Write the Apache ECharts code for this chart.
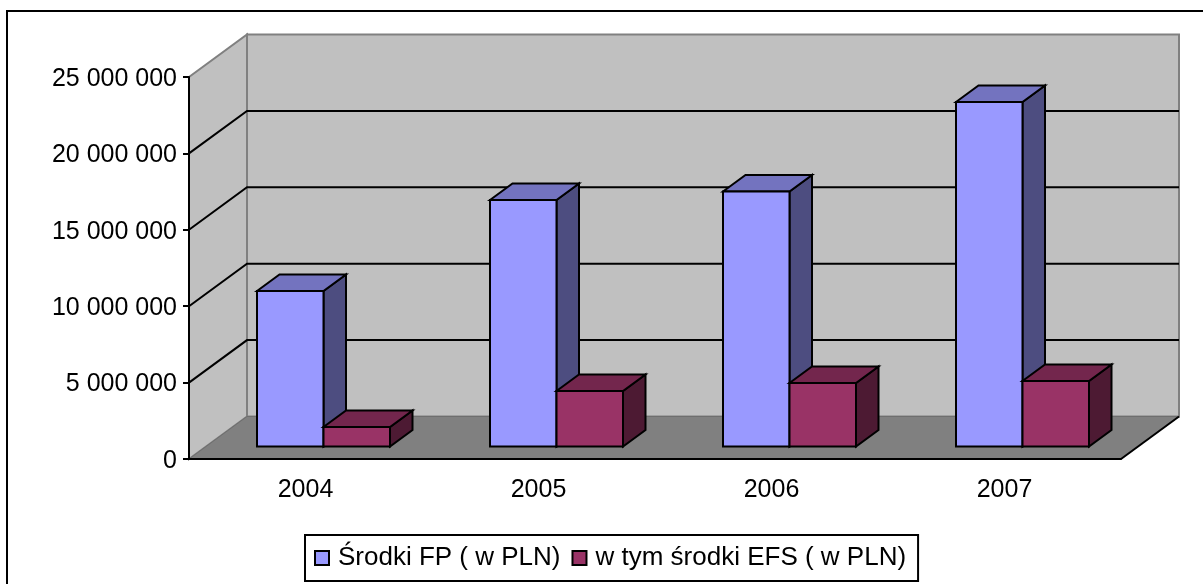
<!DOCTYPE html>
<html>
<head>
<meta charset="utf-8">
<style>
html, body { margin: 0; padding: 0; background: #fff; }
#main { width: 1203px; height: 584px; }
</style>
<script src="https://cdn.jsdelivr.net/npm/echarts@6/dist/echarts.min.js"></script>
</head>
<body>
<div id="main"></div>
<script>
var categories = ['2004', '2005', '2006', '2007'];
var fpValues = [10180000, 16130000, 16690000, 22550000];
var efsValues = [1280000, 3630000, 4160000, 4290000];
var yTicks = [0, 5000000, 10000000, 15000000, 20000000, 25000000];
var fpName = 'Środki FP ( w PLN)';
var efsName = 'w tym środki EFS ( w PLN)';

var FONT = '"Liberation Sans", Arial, sans-serif';
// przesuniecie glebi wykresu 3D
var wallDx = 58, wallDy = -42.5;
var barGapDx = 18, barGapDy = -12.5;
var barDx = 22.5, barDy = -16.5;
var barWidth = 66.5;

var myChart = echarts.init(document.getElementById('main'));

function poly(points, fill, stroke, width) {
    return {
        type: 'polygon',
        shape: { points: points },
        style: { fill: fill, stroke: stroke, lineWidth: width, lineJoin: 'miter' }
    };
}

function line(points, stroke, width) {
    return {
        type: 'polyline',
        shape: { points: points },
        style: { fill: null, stroke: stroke, lineWidth: width }
    };
}

// sciany, podloga i linie siatki
function renderWalls(params, api) {
    var value = api.value(1);
    var sys = params.coordSys;
    var x0 = sys.x, x1 = sys.x + sys.width;
    var y = api.coord([0, value])[1];
    var children = [];
    if (params.dataIndex === 0) {
        var yTop = sys.y, yBottom = sys.y + sys.height;
        children.push(poly([[x0 + wallDx, yTop + wallDy], [x1 + wallDx, yTop + wallDy], [x1 + wallDx, yBottom + wallDy], [x0 + wallDx, yBottom + wallDy]], '#c0c0c0', '#808080', 2));
        children.push(poly([[x0, yTop], [x0 + wallDx, yTop + wallDy], [x0 + wallDx, yBottom + wallDy], [x0, yBottom]], '#c0c0c0', '#808080', 2));
        children.push(poly([[x0, yBottom], [x0 + wallDx, yBottom + wallDy], [x1 + wallDx, yBottom + wallDy], [x1, yBottom]], '#808080', '#6e6e6e', 1));
        children.push(line([[x1, yBottom], [x1 + wallDx, yBottom + wallDy]], '#000', 2));
    } else if (params.dataIndex < yTicks.length - 1) {
        children.push(line([[x0, y], [x0 + wallDx, y + wallDy], [x1 + wallDx, y + wallDy]], '#000', 2));
    }
    return { type: 'group', children: children };
}

function makeBarRenderer(side, front, sideFace, top) {
    return function (params, api) {
        var idx = api.value(0);
        var c = api.coord([idx, api.value(1)]);
        var base = api.coord([idx, 0]);
        var xMid = c[0] + barGapDx;
        var x0 = side < 0 ? xMid - barWidth : xMid;
        var x1 = x0 + barWidth;
        var yT = c[1] + barGapDy;
        var yB = base[1] + barGapDy;
        return {
            type: 'group',
            children: [
                poly([[x1, yT], [x1 + barDx, yT + barDy], [x1 + barDx, yB + barDy], [x1, yB]], sideFace, '#000', 2),
                poly([[x0, yT], [x0 + barDx, yT + barDy], [x1 + barDx, yT + barDy], [x1, yT]], top, '#000', 2),
                poly([[x0, yT], [x1, yT], [x1, yB], [x0, yB]], front, '#000', 2)
            ]
        };
    };
}

var option = {
    backgroundColor: '#fff',
    animation: false,
    textStyle: { fontFamily: FONT },
    graphic: [{
        type: 'polyline',
        shape: { points: [[7, 584], [7, 11], [1203, 11]] },
        style: { fill: null, stroke: '#000', lineWidth: 2 },
        z: 10
    }],
    grid: { left: 189, top: 77, width: 932, height: 382 },
    legend: {
        left: 305,
        top: 535,
        orient: 'horizontal',
        padding: [10, 12, 10, 9],
        backgroundColor: '#fff',
        borderColor: '#000',
        borderWidth: 2,
        borderRadius: 0,
        itemWidth: 14,
        itemHeight: 14,
        itemGap: 11,
        textStyle: { fontFamily: FONT, fontSize: 26, color: '#000', padding: [0, 0, 0, 4] },
        data: [
            { name: fpName, icon: 'rect', itemStyle: { color: '#9999ff', borderColor: '#000', borderWidth: 2 } },
            { name: efsName, icon: 'rect', itemStyle: { color: '#993366', borderColor: '#000', borderWidth: 2 } }
        ]
    },
    xAxis: {
        type: 'category',
        data: categories,
        z: 3,
        axisLine: { lineStyle: { color: '#000', width: 2 } },
        axisTick: { length: 6, lineStyle: { color: '#000', width: 2 } },
        axisLabel: { color: '#000', fontFamily: FONT, fontSize: 25, margin: 19, interval: 0 }
    },
    yAxis: {
        type: 'value',
        min: 0,
        max: 25000000,
        interval: 5000000,
        z: 3,
        splitLine: { show: false },
        axisLine: { show: true, lineStyle: { color: '#000', width: 2 } },
        axisTick: { show: true, length: 6, lineStyle: { color: '#000', width: 2 } },
        axisLabel: {
            margin: 12,
            formatter: function (v) {
                return '{a|' + String(v).replace(/\B(?=(\d{3})+(?!\d))/g, ' ') + '}';
            },
            rich: {
                a: { color: '#000', fontFamily: FONT, fontSize: 25, padding: [4, 0, 0, 0] }
            }
        }
    },
    series: [
        {
            type: 'custom',
            silent: true,
            z: 1,
            renderItem: renderWalls,
            encode: { x: 0, y: 1 },
            data: yTicks.map(function (v) { return [0, v]; })
        },
        {
            name: fpName,
            type: 'custom',
            z: 2,
            itemStyle: { color: '#9999ff' },
            renderItem: makeBarRenderer(-1, '#9999ff', '#4d4d80', '#7373bf'),
            encode: { x: 0, y: 1 },
            data: fpValues.map(function (v, i) { return [i, v]; })
        },
        {
            name: efsName,
            type: 'custom',
            z: 2,
            itemStyle: { color: '#993366' },
            renderItem: makeBarRenderer(1, '#993366', '#4d1a33', '#73264d'),
            encode: { x: 0, y: 1 },
            data: efsValues.map(function (v, i) { return [i, v]; })
        }
    ]
};

myChart.setOption(option);
</script>
</body>
</html>
